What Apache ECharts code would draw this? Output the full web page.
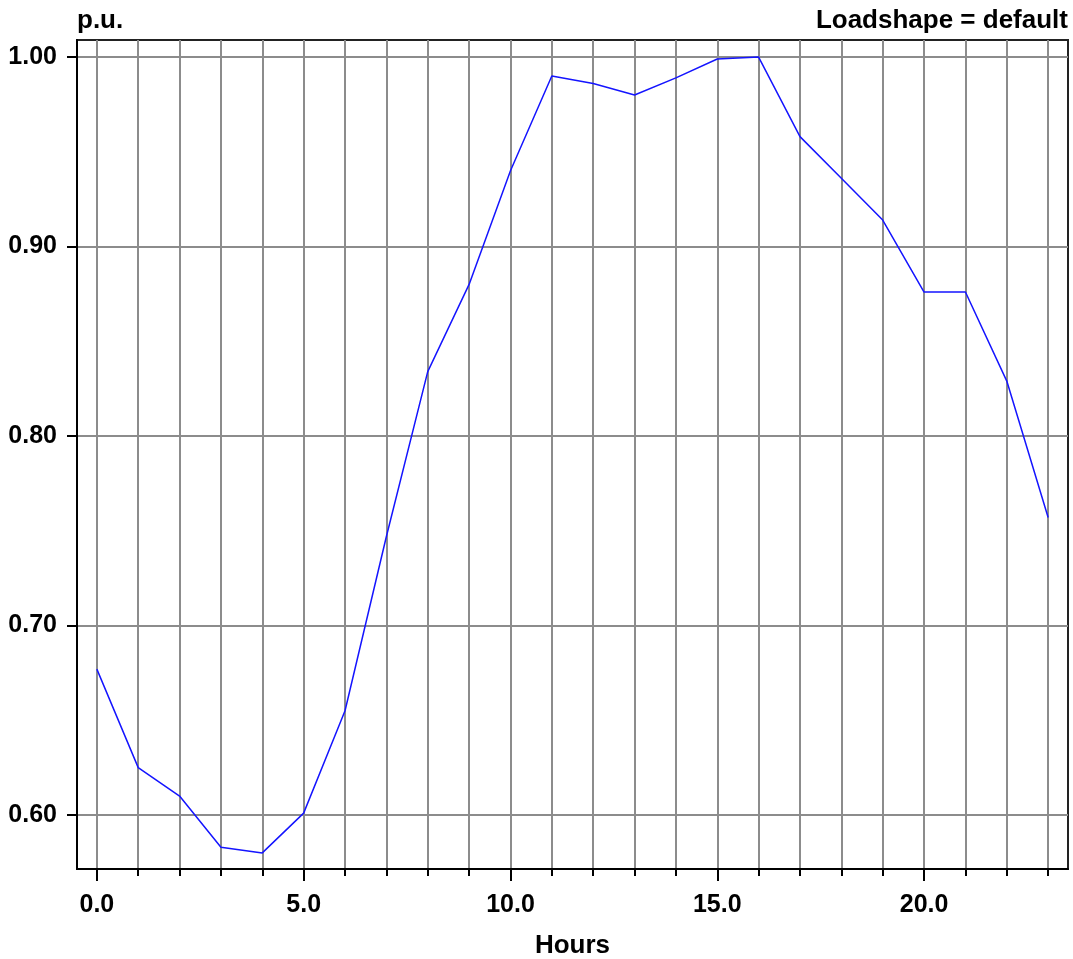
<!DOCTYPE html>
<html>
<head>
<meta charset="utf-8">
<title>Loadshape = default</title>
<script src="https://cdn.jsdelivr.net/npm/echarts@6/dist/echarts.min.js"></script>
<style>
  html, body { margin: 0; padding: 0; background: #fff; }
  #main { width: 1073px; height: 959px; }
</style>
</head>
<body>
<div id="main"></div>
<script>
// hours of the day and the load multiplier (p.u.)
var hours = [0, 1, 2, 3, 4, 5, 6, 7, 8, 9, 10, 11, 12, 13, 14, 15, 16, 17, 18, 19, 20, 21, 22, 23];
var loadPu = [0.677, 0.625, 0.610, 0.583, 0.580, 0.601, 0.655, 0.747, 0.834, 0.880,
              0.940, 0.990, 0.986, 0.980, 0.989, 0.999, 1.000, 0.958, 0.936, 0.914,
              0.876, 0.876, 0.829, 0.757];
var xLabels = [0, 5, 10, 15, 20];
var yLabels = [0.60, 0.70, 0.80, 0.90, 1.00];

var font = "'Liberation Sans', Arial, sans-serif";
var gridGray = '#8c8c8c';

var points = [];
for (var i = 0; i < hours.length; i++) {
  points.push([hours[i], loadPu[i]]);
}

var chart = echarts.init(document.getElementById('main'), null, { renderer: 'canvas' });

var option = {
  animation: false,
  backgroundColor: '#fff',
  title: {
    text: 'Loadshape = default',
    right: 0,
    top: 3,
    textStyle: { fontFamily: font, fontSize: 26, fontWeight: 'bold', color: '#000' }
  },
  grid: {
    left: 77, right: 5, top: 40, bottom: 90,
    show: true,
    borderColor: '#222',
    borderWidth: 2,
    containLabel: false,
    outerBoundsMode: 'none'
  },
  xAxis: [
    {
      // every hour: short tick + vertical grid line
      type: 'value',
      min: -0.48,
      max: 23.48,
      position: 'bottom',
      axisLine: { onZero: false, lineStyle: { color: '#000', width: 2 } },
      axisTick: { show: true, length: 7, customValues: hours, lineStyle: { color: '#000', width: 2 } },
      axisLabel: { show: false },
      splitLine: { show: true, lineStyle: { color: gridGray, width: 2 } }
    },
    {
      // major ticks with labels every 5 hours
      type: 'value',
      min: -0.48,
      max: 23.48,
      position: 'bottom',
      name: 'Hours',
      nameLocation: 'middle',
      nameGap: 64,
      nameTextStyle: { fontFamily: font, fontSize: 26, fontWeight: 'bold', color: '#000' },
      axisLine: { show: false, onZero: false },
      axisTick: { show: true, length: 12, customValues: xLabels, lineStyle: { color: '#000', width: 2 } },
      axisLabel: {
        customValues: xLabels,
        margin: 24,
        fontFamily: font, fontSize: 25, fontWeight: 'bold', color: '#000',
        formatter: function (v) { return v.toFixed(1); }
      },
      splitLine: { show: false }
    }
  ],
  yAxis: {
    type: 'value',
    min: 0.5715,
    max: 1.009,
    name: 'p.u.',
    nameLocation: 'end',
    nameGap: 6,
    nameTextStyle: { fontFamily: font, fontSize: 26, fontWeight: 'bold', color: '#000', align: 'left', verticalAlign: 'bottom' },
    axisLine: { show: true, onZero: false, lineStyle: { color: '#000', width: 2 } },
    axisTick: { show: true, length: 10, customValues: yLabels, lineStyle: { color: '#000', width: 2 } },
    axisLabel: {
      customValues: yLabels,
      margin: 20,
      fontFamily: font, fontSize: 25, fontWeight: 'bold', color: '#000',
      formatter: function (v) { return v.toFixed(2); }
    },
    splitLine: { show: true, lineStyle: { color: gridGray, width: 2 } }
  },
  series: [
    {
      type: 'line',
      xAxisIndex: 0,
      data: points,
      showSymbol: false,
      lineStyle: { color: '#1414ff', width: 1.5 },
      itemStyle: { color: '#1414ff' },
      clip: true
    }
  ]
};

chart.setOption(option);
</script>
</body>
</html>
